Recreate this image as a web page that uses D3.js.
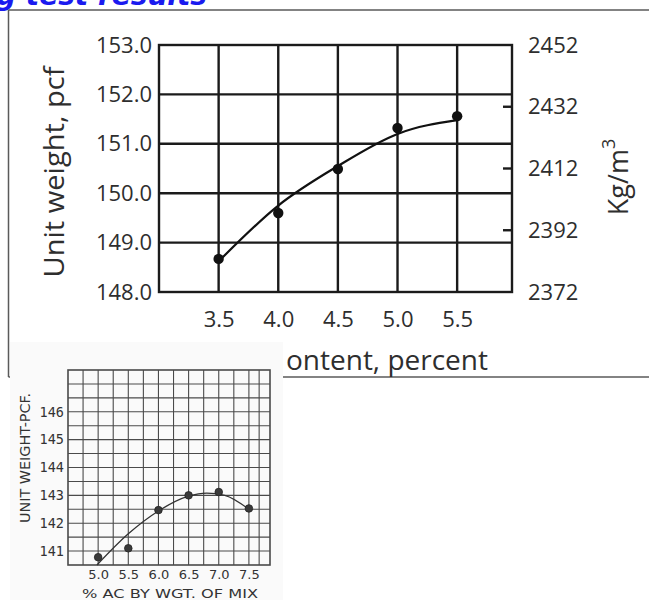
<!DOCTYPE html>
<html>
<head>
<meta charset="utf-8">
<script src="https://cdn.jsdelivr.net/npm/d3@7"></script>
<style>
  html, body { margin: 0; padding: 0; background: #fff; }
  svg { display: block; }
</style>
</head>
<body>
<svg id="chart" width="649" height="600"></svg>
<script>
// ---- Upper chart: unit weight vs. asphalt content ----
const topContent = [3.5, 4.0, 4.5, 5.0, 5.5];
const topWeight = [148.67, 149.6, 150.49, 151.32, 151.56];
const topCurveContent = [3.5, 4.0, 4.5, 5.0, 5.5];
const topCurveWeight = [148.62, 149.75, 150.55, 151.2, 151.48];
const topWeightTicks = [148, 149, 150, 151, 152, 153];
const topMetricTicks = [2372, 2392, 2412, 2432, 2452];
const topMetricMarks = [2392, 2412, 2432];

// ---- Lower chart: unit weight vs. % AC by weight of mix ----
const lowAC = [5.0, 5.5, 6.0, 6.5, 7.0, 7.5];
const lowWeight = [140.78, 141.1, 142.47, 143.0, 143.12, 142.53];
const lowCurveAC = [4.98, 5.5, 6.0, 6.5, 6.8, 7.1, 7.5];
const lowCurveWeight = [140.5, 141.62, 142.44, 142.97, 143.08, 143.0, 142.5];
const lowWeightTicks = [141, 142, 143, 144, 145, 146];
const lowACTicks = [5.0, 5.5, 6.0, 6.5, 7.0, 7.5];

const svg = d3.select("#chart");

// Heading fragment at the very top
svg.append("text")
  .attr("x", 207).attr("y", 5)
  .attr("text-anchor", "end")
  .attr("font-family", "DejaVu Sans")
  .attr("font-weight", "bold")
  .attr("font-style", "italic")
  .attr("font-size", 28)
  .attr("fill", "#1a1aef")
  .text("g test results");

// Frame of the upper figure
const frame = svg.append("g").attr("stroke", "#5a5a5a").attr("stroke-width", 1.5).attr("fill", "none");
frame.append("line").attr("x1", 8.5).attr("y1", 10).attr("x2", 649).attr("y2", 10);
frame.append("line").attr("x1", 8.5).attr("y1", 10).attr("x2", 8.5).attr("y2", 377);
frame.append("line").attr("x1", 8.5).attr("y1", 377).attr("x2", 649).attr("y2", 377);

// Upper chart scales
const x1 = d3.scaleLinear().domain([3.0, 5.96]).range([159, 512]);
const y1 = d3.scaleLinear().domain([148, 153]).range([292, 45]);
const y1m = d3.scaleLinear().domain([2372, 2452]).range([292, 45]);

const up = svg.append("g");
const gridUp = up.append("g").attr("stroke", "#1b1b1b").attr("stroke-width", 2.4).attr("fill", "none");
gridUp.selectAll("line.v").data(topContent).join("line")
  .attr("x1", d => x1(d)).attr("x2", d => x1(d))
  .attr("y1", y1(153)).attr("y2", y1(148));
gridUp.selectAll("line.h").data(topWeightTicks.slice(1, -1)).join("line")
  .attr("x1", x1.range()[0]).attr("x2", x1.range()[1])
  .attr("y1", d => y1(d)).attr("y2", d => y1(d));
gridUp.append("rect")
  .attr("x", x1.range()[0]).attr("y", y1(153))
  .attr("width", x1.range()[1] - x1.range()[0]).attr("height", y1(148) - y1(153));
gridUp.selectAll("line.m").data(topMetricMarks).join("line")
  .attr("x1", x1.range()[1] - 9).attr("x2", x1.range()[1])
  .attr("y1", d => y1m(d)).attr("y2", d => y1m(d));

// Curve and points
const lineUp = d3.line().x(d => x1(d[0])).y(d => y1(d[1])).curve(d3.curveMonotoneX);
up.append("path")
  .datum(d3.zip(topCurveContent, topCurveWeight))
  .attr("d", lineUp)
  .attr("fill", "none").attr("stroke", "#111").attr("stroke-width", 2.2);
up.selectAll("circle").data(d3.zip(topContent, topWeight)).join("circle")
  .attr("cx", d => x1(d[0])).attr("cy", d => y1(d[1])).attr("r", 5.2)
  .attr("fill", "#111");

// Axes (labels only)
function styleAxis(g, size, family, color) {
  g.select(".domain").remove();
  g.selectAll("line").remove();
  g.selectAll("text").attr("font-size", size).attr("font-family", family).attr("fill", color);
}
up.append("g").attr("transform", `translate(${x1.range()[0]},0)`)
  .call(d3.axisLeft(y1).tickValues(topWeightTicks).tickFormat(d3.format(".1f")).tickSize(0).tickPadding(7))
  .call(g => styleAxis(g, 22, "Open Sans", "#2e2e2e"));
up.append("g").attr("transform", `translate(${x1.range()[1]},0)`)
  .call(d3.axisRight(y1m).tickValues(topMetricTicks).tickFormat(d3.format("d")).tickSize(0).tickPadding(16))
  .call(g => styleAxis(g, 22, "Open Sans", "#2e2e2e"));
up.append("g").attr("transform", `translate(0,${y1.range()[0]})`)
  .call(d3.axisBottom(x1).tickValues(topContent).tickFormat(d3.format(".1f")).tickSize(0).tickPadding(19))
  .call(g => styleAxis(g, 22, "Open Sans", "#2e2e2e"));

// Axis titles
up.append("text")
  .attr("transform", "translate(64,172) rotate(-90)")
  .attr("text-anchor", "middle")
  .attr("font-family", "Open Sans").attr("font-size", 27).attr("fill", "#2e2e2e")
  .attr("textLength", 211).attr("lengthAdjust", "spacingAndGlyphs")
  .text("Unit weight, pcf");
const kg = up.append("text")
  .attr("transform", "translate(628,177) rotate(-90)")
  .attr("text-anchor", "middle")
  .attr("font-family", "Open Sans").attr("font-size", 27).attr("fill", "#2e2e2e");
kg.append("tspan").text("Kg/m");
kg.append("tspan").attr("font-size", 18).attr("dy", -13).text("3");
up.append("text")
  .attr("x", 286).attr("y", 370)
  .attr("font-family", "Open Sans").attr("font-size", 28).attr("fill", "#2e2e2e")
  .text("ontent, percent");

// ---- Lower chart ----
const low = svg.append("g");
low.append("rect").attr("x", 10).attr("y", 342).attr("width", 273).attr("height", 258).attr("fill", "#fafafa");

const x2 = d3.scaleLinear().domain([4.5, 7.85]).range([68, 270]);
const y2 = d3.scaleLinear().domain([140.5, 147.5]).range([565, 370]);

const gridLow = low.append("g").attr("stroke", "#4a4a4a").attr("stroke-width", 1.1).attr("fill", "none");
const vLines = d3.range(4.75, 7.51, 0.25).concat([7.67]);
const hLines = d3.range(141, 147.01, 0.5);
gridLow.selectAll("line.v").data(vLines).join("line")
  .attr("x1", d => x2(d)).attr("x2", d => x2(d))
  .attr("y1", y2.range()[1]).attr("y2", y2.range()[0]);
gridLow.selectAll("line.h").data(hLines).join("line")
  .attr("x1", x2.range()[0]).attr("x2", x2.range()[1])
  .attr("y1", d => y2(d)).attr("y2", d => y2(d));
gridLow.append("rect")
  .attr("x", x2.range()[0]).attr("y", y2.range()[1])
  .attr("width", x2.range()[1] - x2.range()[0]).attr("height", y2.range()[0] - y2.range()[1])
  .attr("stroke-width", 1.6);

const lineLow = d3.line().x(d => x2(d[0])).y(d => y2(d[1])).curve(d3.curveMonotoneX);
low.append("path")
  .datum(d3.zip(lowCurveAC, lowCurveWeight))
  .attr("d", lineLow)
  .attr("fill", "none").attr("stroke", "#333").attr("stroke-width", 1.3);
low.selectAll("circle").data(d3.zip(lowAC, lowWeight)).join("circle")
  .attr("cx", d => x2(d[0])).attr("cy", d => y2(d[1])).attr("r", 3.8)
  .attr("fill", "#3a3a3a").attr("stroke", "#222").attr("stroke-width", 0.8);

low.append("g").attr("transform", `translate(${x2.range()[0]},0)`)
  .call(d3.axisLeft(y2).tickValues(lowWeightTicks).tickFormat(d3.format("d")).tickSize(0).tickPadding(4))
  .call(g => styleAxis(g, 13.5, "DejaVu Sans Mono", "#333"));
low.append("g").attr("transform", `translate(0,${y2.range()[0]})`)
  .call(d3.axisBottom(x2).tickValues(lowACTicks).tickFormat(d3.format(".1f")).tickSize(0).tickPadding(5))
  .call(g => styleAxis(g, 13, "DejaVu Sans", "#333"));

low.append("text")
  .attr("transform", "translate(30,458) rotate(-90)")
  .attr("text-anchor", "middle")
  .attr("font-family", "DejaVu Sans").attr("font-size", 13.5).attr("fill", "#333")
  .attr("textLength", 130).attr("lengthAdjust", "spacingAndGlyphs")
  .text("UNIT WEIGHT-PCF.");
low.append("text")
  .attr("x", 170).attr("y", 598)
  .attr("text-anchor", "middle")
  .attr("font-family", "DejaVu Sans").attr("font-size", 12.5).attr("fill", "#333")
  .attr("textLength", 176).attr("lengthAdjust", "spacingAndGlyphs")
  .text("% AC BY WGT. OF MIX");
</script>
</body>
</html>
